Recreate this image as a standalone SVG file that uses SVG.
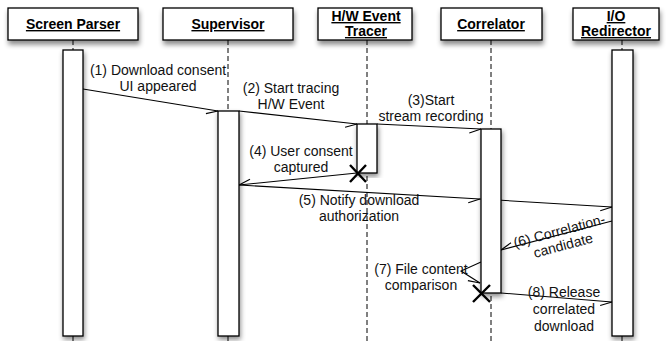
<svg xmlns="http://www.w3.org/2000/svg" width="671" height="341" viewBox="0 0 671 341">
<style>
.hdr{fill:#fff;stroke:#000;stroke-width:1.3;filter:url(#sh)}
.act{fill:#fff;stroke:#000;stroke-width:1.3;filter:url(#sh2)}
.life{stroke:#000;stroke-width:1;stroke-dasharray:5 3;fill:none}
.ht{font-family:"Liberation Sans",Arial,sans-serif;font-size:14px;font-weight:bold;text-decoration:underline;text-anchor:middle;fill:#000}
.lb{font-family:"Liberation Sans",Arial,sans-serif;font-size:14px;text-anchor:middle;fill:#111}
.msg{stroke:#000;stroke-width:1.1;fill:none;marker-end:url(#barb)}
.x{stroke:#000;stroke-width:2.4;fill:none}
</style>
<defs>
<filter id="sh" x="-20%" y="-30%" width="140%" height="170%">
<feDropShadow dx="1" dy="4" stdDeviation="2.5" flood-color="#000" flood-opacity="0.45"/>
</filter>
<filter id="sh2" x="-60%" y="-10%" width="220%" height="120%">
<feDropShadow dx="1" dy="3" stdDeviation="2.5" flood-color="#000" flood-opacity="0.45"/>
</filter>
<marker id="barb" viewBox="-14 -8 16 16" refX="0" refY="0" markerWidth="16" markerHeight="16" markerUnits="userSpaceOnUse" orient="auto" overflow="visible">
<path d="M-11.5,4.5 L0,0" stroke="#000" stroke-width="1.1" fill="none"/>
</marker>
</defs>
<rect width="671" height="341" fill="#fff"/>

<g id="connectors">
<path class="msg" d="M83,89 L218,111"/>
<path class="msg" d="M239,111 L357,124"/>
<path class="msg" d="M377,124 L481,129"/>
<path class="msg" d="M357,173 L239,185"/>
<path class="msg" d="M239,185 L480,199"/>
<path class="msg" d="M480,199 L612,207"/>
<path class="msg" d="M612,221 L501,250"/>
<path class="msg" d="M481,262 L461,271 L480,283"/>
<path class="msg" d="M501,293 L612,302"/>
<text class="lb" x="158" y="75">(1) Download consent</text>
<text class="lb" x="158" y="91">UI appeared</text>
<text class="lb" x="291" y="93">(2) Start tracing</text>
<text class="lb" x="291" y="109">H/W Event</text>
<text class="lb" x="431" y="105">(3)Start</text>
<text class="lb" x="431" y="121">stream recording</text>
<text class="lb" x="301" y="156">(4) User consent</text>
<text class="lb" x="301" y="172">captured</text>
<text class="lb" x="359" y="205">(5) Notify download</text>
<text class="lb" x="359" y="221">authorization</text>
<g transform="translate(561,237.5) rotate(-15)">
<text class="lb" x="0" y="-2">(6) Correlation-</text>
<text class="lb" x="0" y="13">candidate</text>
</g>
<text class="lb" x="421" y="274">(7) File content</text>
<text class="lb" x="421" y="290">comparison</text>
<text class="lb" x="564" y="297">(8) Release</text>
<text class="lb" x="564" y="314">correlated</text>
<text class="lb" x="564" y="331">download</text>
</g>

<g id="screen-parser">
<line class="life" x1="73" y1="40" x2="73" y2="341"/>
<rect class="hdr" x="8" y="8" width="130" height="32"/>
<text class="ht" x="73" y="29">Screen Parser</text>
<rect class="act" x="63" y="50" width="20" height="286"/>
</g>

<g id="supervisor">
<line class="life" x1="228" y1="40" x2="228" y2="341"/>
<rect class="hdr" x="163" y="8" width="130" height="32"/>
<text class="ht" x="228" y="29">Supervisor</text>
<rect class="act" x="218" y="111" width="21" height="225"/>
</g>

<g id="hw-event-tracer">
<line class="life" x1="367" y1="40" x2="367" y2="341"/>
<rect class="hdr" x="318" y="8" width="94" height="32"/>
<text class="ht" x="366" y="21">H/W Event</text>
<text class="ht" x="366" y="36">Tracer</text>
<rect class="act" x="357" y="124" width="20" height="49"/>
<path class="x" d="M350,165 L366,182 M366,165 L350,182"/>
</g>

<g id="correlator">
<line class="life" x1="491" y1="40" x2="491" y2="341"/>
<rect class="hdr" x="441" y="8" width="101" height="32"/>
<text class="ht" x="491" y="29">Correlator</text>
<rect class="act" x="481" y="129" width="20" height="164"/>
<path class="x" d="M473,285 L490,302 M490,285 L473,302"/>
</g>

<g id="io-redirector">
<line class="life" x1="622" y1="40" x2="622" y2="341"/>
<rect class="hdr" x="573" y="8" width="86" height="32"/>
<text class="ht" x="616" y="21">I/O</text>
<text class="ht" x="616" y="36">Redirector</text>
<rect class="act" x="612" y="50" width="21" height="286"/>
</g>
</svg>
